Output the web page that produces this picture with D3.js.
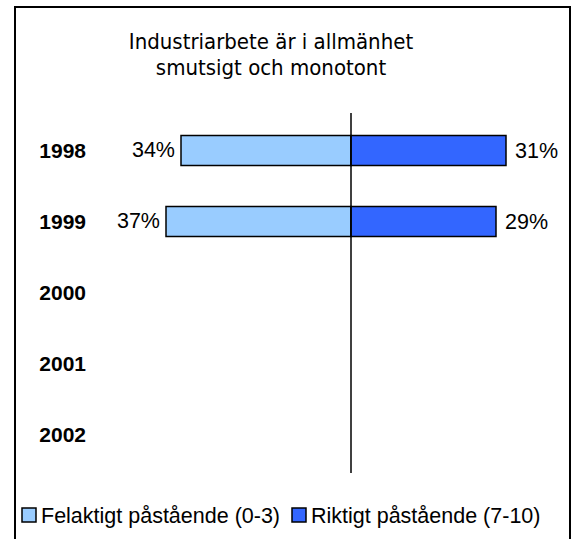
<!DOCTYPE html>
<html>
<head>
<meta charset="utf-8">
<script src="https://cdn.jsdelivr.net/npm/d3@7"></script>
<style>
  body { margin: 0; background: #fff; }
  svg { display: block; }
</style>
</head>
<body>
<div id="chart"></div>
<script>
const years = ["1998", "1999", "2000", "2001", "2002"];
const felaktigt = [34, 37, null, null, null];   // Felaktigt påstående (0-3)
const riktigt = [31, 29, null, null, null];     // Riktigt påstående (7-10)
const titleLines = ["Industriarbete är i allmänhet", "smutsigt och monotont"];
const legendLabels = ["Felaktigt påstående (0-3)", "Riktigt påstående (7-10)"];

const width = 575, height = 539;
const colors = ["#99ccff", "#3366ff"];

const svg = d3.select("#chart").append("svg")
  .attr("width", width)
  .attr("height", height);

// outer frame (bottom edge is cut off in the picture)
svg.append("path")
  .attr("d", "M15,545 V7 H570 V545")
  .attr("fill", "none")
  .attr("stroke", "#000")
  .attr("stroke-width", 2);

const x = d3.scaleLinear().domain([-40, 40]).range([151, 551]);
const y = d3.scalePoint().domain(years).range([115, 470]).padding(0.5);
const barH = 30;

// title
svg.append("g").selectAll("text")
  .data(titleLines)
  .enter().append("text")
    .attr("x", 271)
    .attr("y", (d, i) => 49 + i * 26)
    .attr("text-anchor", "middle")
    .style("font-family", "'DejaVu Sans Condensed', 'DejaVu Sans', sans-serif")
    .style("font-size", "22px")
    .style("fill", "#000")
    .text(d => d);

// year labels
svg.append("g").selectAll("text")
  .data(years)
  .enter().append("text")
    .attr("x", 86)
    .attr("y", d => y(d))
    .attr("dy", "0.36em")
    .attr("text-anchor", "end")
    .style("font-family", "'Liberation Sans', Arial, sans-serif")
    .style("font-weight", "bold")
    .style("font-size", "21px")
    .text(d => d);

const rows = years.map((yr, i) => ({ year: yr, left: felaktigt[i], right: riktigt[i] }))
  .filter(d => d.left != null);

const bars = svg.append("g");

bars.selectAll("rect.left")
  .data(rows)
  .enter().append("rect")
    .attr("class", "left")
    .attr("x", d => x(-d.left))
    .attr("y", d => y(d.year) - barH / 2)
    .attr("width", d => x(0) - x(-d.left))
    .attr("height", barH)
    .attr("fill", colors[0])
    .attr("stroke", "#000")
    .attr("stroke-width", 1.5);

bars.selectAll("rect.right")
  .data(rows)
  .enter().append("rect")
    .attr("class", "right")
    .attr("x", x(0))
    .attr("y", d => y(d.year) - barH / 2)
    .attr("width", d => x(d.right) - x(0))
    .attr("height", barH)
    .attr("fill", colors[1])
    .attr("stroke", "#000")
    .attr("stroke-width", 1.5);

// value labels
const labelFont = "'Liberation Sans', Arial, sans-serif";
bars.selectAll("text.left")
  .data(rows)
  .enter().append("text")
    .attr("x", d => x(-d.left) - 6)
    .attr("y", d => y(d.year))
    .attr("dy", "0.3em")
    .attr("text-anchor", "end")
    .style("font-family", labelFont)
    .style("font-size", "21.5px")
    .text(d => d.left + "%");

bars.selectAll("text.right")
  .data(rows)
  .enter().append("text")
    .attr("x", d => x(d.right) + 9)
    .attr("y", d => y(d.year))
    .attr("dy", "0.36em")
    .attr("text-anchor", "start")
    .style("font-family", labelFont)
    .style("font-size", "21.5px")
    .text(d => d.right + "%");

// centre axis line
svg.append("line")
  .attr("x1", x(0)).attr("x2", x(0))
  .attr("y1", 113).attr("y2", 473)
  .attr("stroke", "#000")
  .attr("stroke-width", 1.5);

// legend
const legend = svg.append("g").attr("transform", "translate(22, 508)");
const legendX = [0, 270];
legendLabels.forEach(function (lab, i) {
  const g = legend.append("g").attr("transform", "translate(" + legendX[i] + ",0)");
  g.append("rect")
    .attr("width", 14).attr("height", 14)
    .attr("fill", colors[i])
    .attr("stroke", "#000")
    .attr("stroke-width", 1.5);
  g.append("text")
    .attr("x", 19)
    .attr("y", 7)
    .attr("dy", "0.36em")
    .style("font-family", labelFont)
    .style("font-size", "21.5px")
    .text(lab);
});
</script>
</body>
</html>
